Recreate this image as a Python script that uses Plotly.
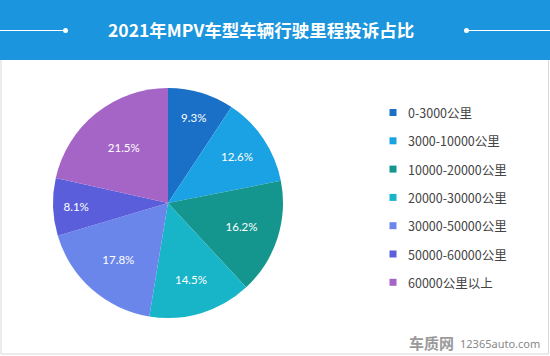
import plotly.graph_objects as go

labels = ["0-3000公里", "3000-10000公里", "10000-20000公里", "20000-30000公里",
          "30000-50000公里", "50000-60000公里", "60000公里以上"]
values = [9.3, 12.6, 16.2, 14.5, 17.8, 8.1, 21.5]
colors = ["#1a6fc6", "#1ba2e4", "#14958e", "#18b4c8", "#6b86ea", "#5a5edb", "#a565c7"]
title_text = "2021年MPV车型车辆行驶里程投诉占比"

W, H = 550, 356

def px(x):
    return x / W

def py(y):
    return 1 - y / H

fig = go.Figure()
fig.add_trace(go.Pie(
    labels=labels, values=values, sort=False, direction="clockwise", rotation=0,
    marker=dict(colors=colors, line=dict(width=0)),
    texttemplate="%{value:.1f}%", textposition="inside", insidetextorientation="horizontal",
    textfont=dict(color="white", size=11.5, family="Lato, Noto Sans"),
    domain=dict(x=[px(53), px(283)], y=[py(318), py(88)]),
    showlegend=False, hoverinfo="label+value",
))

shapes = [
    # card border
    dict(type="rect", xref="paper", yref="paper", x0=px(1), x1=px(548.5), y0=py(354), y1=py(0),
         line=dict(color="#d8d8d8", width=1), fillcolor="white", layer="below"),
    # header band
    dict(type="rect", xref="paper", yref="paper", x0=0, x1=1, y0=py(60), y1=1,
         line=dict(width=0), fillcolor="#1b95dd", layer="below"),
    dict(type="line", xref="paper", yref="paper", x0=0, x1=px(64), y0=py(30.5), y1=py(30.5),
         line=dict(color="white", width=1)),
    dict(type="circle", xref="paper", yref="paper", x0=px(63), x1=px(68), y0=py(33), y1=py(28),
         line=dict(width=0), fillcolor="white"),
    dict(type="line", xref="paper", yref="paper", x0=px(467), x1=1, y0=py(30.5), y1=py(30.5),
         line=dict(color="white", width=1)),
    dict(type="circle", xref="paper", yref="paper", x0=px(464), x1=px(469), y0=py(33), y1=py(28),
         line=dict(width=0), fillcolor="white"),
]

annotations = [
    dict(text=f"<b>{title_text}</b>", x=px(261), y=py(30), xref="paper", yref="paper",
         showarrow=False, font=dict(size=17.5, color="white", family="Noto Sans CJK SC"),
         xanchor="center", yanchor="middle"),
]

# legend drawn manually
leg_y0, leg_step = 112.5, 28.3
for i, (lab, col) in enumerate(zip(labels, colors)):
    yc = leg_y0 + i * leg_step
    shapes.append(dict(type="rect", xref="paper", yref="paper",
                       x0=px(389.5), x1=px(396.5), y0=py(yc + 3.5), y1=py(yc - 3.5),
                       line=dict(width=0), fillcolor=col))
    annotations.append(dict(text=lab, x=px(406), y=py(yc), xref="paper", yref="paper",
                            showarrow=False, xanchor="left", yanchor="middle",
                            font=dict(size=12.5, color="#444444", family="Noto Sans CJK SC")))

# watermark
annotations.append(dict(text="<b>车质网</b>", x=px(456), y=py(342), xref="paper", yref="paper",
                        showarrow=False, xanchor="right", yanchor="middle",
                        font=dict(size=15, color="#9a9a9a", family="Noto Sans CJK SC")))
annotations.append(dict(text="12365auto.com", x=px(458), y=py(343), xref="paper", yref="paper",
                        showarrow=False, xanchor="left", yanchor="middle",
                        font=dict(size=11, color="#888888", family="Noto Sans")))

fig.update_layout(
    width=W, height=H, margin=dict(l=0, r=0, t=0, b=0),
    paper_bgcolor="white", plot_bgcolor="white",
    shapes=shapes, annotations=annotations, showlegend=False,
)

fig.write_html("out.html", config={"displayModeBar": False},
               post_script="document.body.style.margin='0';document.body.style.overflow='hidden';")
